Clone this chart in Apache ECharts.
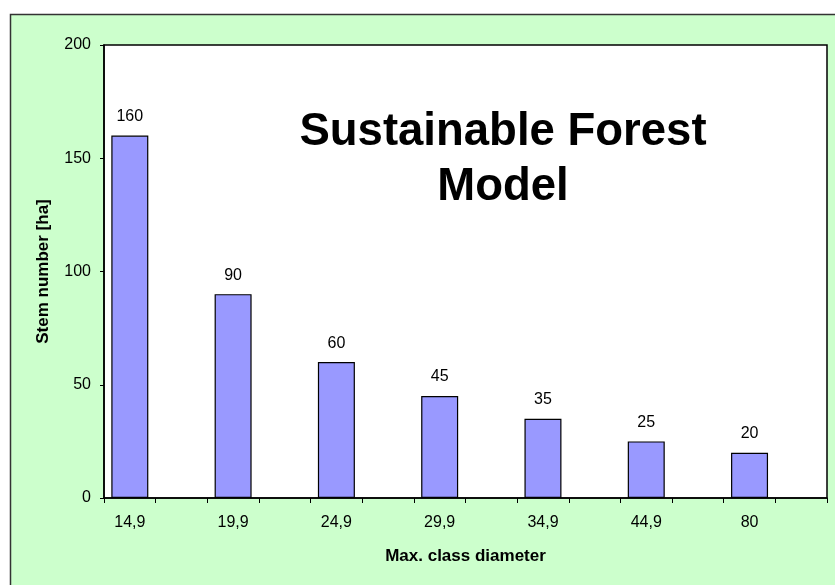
<!DOCTYPE html>
<html>
<head>
<meta charset="utf-8">
<script src="https://cdn.jsdelivr.net/npm/echarts@6/dist/echarts.min.js"></script>
<style>html,body{margin:0;padding:0;background:#fff}#c{width:835px;height:585px}</style>
</head>
<body>
<div id="c"></div>
<script>
var categories = ['14,9', '19,9', '24,9', '29,9', '34,9', '44,9', '80'];
var stems = [160, 90, 60, 45, 35, 25, 20];
var yTicks = [0, 50, 100, 150, 200];
var titleText = 'Sustainable Forest\nModel';
var xName = 'Max. class diameter';
var yName = 'Stem number [ha]';

// Excel layout: each class occupies a slot followed by an empty slot
var slotCats = [], slotVals = [];
for (var i = 0; i < categories.length; i++) {
  slotCats.push(categories[i]); slotVals.push(stems[i]);
  slotCats.push(''); slotVals.push(null);
}

var FONT = "'Liberation Sans', Arial, sans-serif";
var chart = echarts.init(document.getElementById('c'), null, {renderer: 'canvas'});
chart.setOption({
  backgroundColor: '#ffffff',
  animation: false,
  graphic: [{
    type: 'rect', z: -10, silent: true,
    shape: {x: 10.5, y: 14.5, width: 840, height: 600},
    style: {fill: '#CCFFCC', stroke: '#333333', lineWidth: 1.5}
  }],
  title: {
    text: titleText,
    left: 498, top: 100, textAlign: 'center',
    textStyle: {fontFamily: FONT, fontWeight: 'bold', fontSize: 45.5, lineHeight: 55, color: '#000'}
  },
  grid: {left: 104, right: 8, top: 45, bottom: 87, show: true, backgroundColor: '#ffffff', borderColor: '#000', borderWidth: 1.5, containLabel: false},
  xAxis: {
    type: 'category', data: slotCats, boundaryGap: true,
    name: xName, nameLocation: 'middle', nameGap: 50,
    nameTextStyle: {fontFamily: FONT, fontWeight: 'bold', fontSize: 17, color: '#000'},
    axisLine: {lineStyle: {color: '#000', width: 1.5}},
    axisTick: {show: true, interval: 0, length: 5, lineStyle: {color: '#000'}},
    axisLabel: {interval: 0, margin: 17, fontFamily: FONT, fontSize: 16, color: '#000'},
    splitLine: {show: false}
  },
  yAxis: {
    type: 'value', min: yTicks[0], max: yTicks[yTicks.length - 1], interval: yTicks[1] - yTicks[0],
    name: yName, nameLocation: 'middle', nameGap: 52, nameRotate: 90,
    nameTextStyle: {fontFamily: FONT, fontWeight: 'bold', fontSize: 17, color: '#000'},
    axisLine: {show: true, lineStyle: {color: '#000', width: 1.5}},
    axisTick: {show: true, length: 4, lineStyle: {color: '#000'}},
    axisLabel: {margin: 13, fontFamily: FONT, fontSize: 16, color: '#000'},
    splitLine: {show: false}
  },
  series: [{
    type: 'bar', data: slotVals, barWidth: 37,
    itemStyle: {color: '#9999FF', borderColor: '#000', borderWidth: 1.2},
    label: {show: true, position: 'top', distance: 11, fontFamily: FONT, fontSize: 16, color: '#000'}
  }]
});
</script>
</body>
</html>
